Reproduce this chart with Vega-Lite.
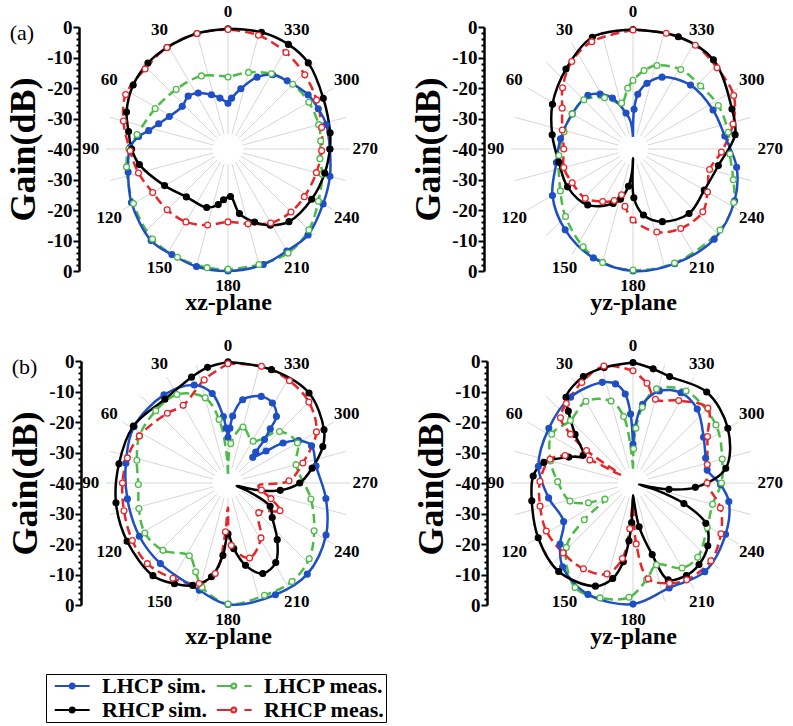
{
"$schema":"https://vega.github.io/schema/vega-lite/v6.json",
"background":"#ffffff",
"padding":{"left":5,"top":2,"right":0,"bottom":0},
"datasets":{
"rings":[{"r":5},{"r":10},{"r":15},{"r":20},{"r":25},{"r":30},{"r":35},{"r":40}],
"spokes":[{"angle":0},{"angle":15},{"angle":30},{"angle":45},{"angle":60},{"angle":75},{"angle":90},{"angle":105},{"angle":120},{"angle":135},{"angle":150},{"angle":165},{"angle":180},{"angle":195},{"angle":210},{"angle":225},{"angle":240},{"angle":255},{"angle":270},{"angle":285},{"angle":300},{"angle":315},{"angle":330},{"angle":345}],
"angleLabels":[{"angle":0},{"angle":30},{"angle":60},{"angle":90},{"angle":120},{"angle":150},{"angle":180},{"angle":210},{"angle":240},{"angle":270},{"angle":300},{"angle":330}],
"curves":[
{"panel":"a-xz","series":"LHCP sim.","angle":0,"gain":-25},{"panel":"a-xz","series":"LHCP sim.","angle":9,"gain":-23.1},{"panel":"a-xz","series":"LHCP sim.","angle":17,"gain":-21.4},{"panel":"a-xz","series":"LHCP sim.","angle":28,"gain":-19.2},{"panel":"a-xz","series":"LHCP sim.","angle":37,"gain":-18.3},{"panel":"a-xz","series":"LHCP sim.","angle":47,"gain":-19.5},{"panel":"a-xz","series":"LHCP sim.","angle":61,"gain":-18},{"panel":"a-xz","series":"LHCP sim.","angle":70,"gain":-15.8},{"panel":"a-xz","series":"LHCP sim.","angle":77,"gain":-13.3},{"panel":"a-xz","series":"LHCP sim.","angle":82,"gain":-10.4},{"panel":"a-xz","series":"LHCP sim.","angle":89,"gain":-7.9},{"panel":"a-xz","series":"LHCP sim.","angle":103,"gain":-6.4},{"panel":"a-xz","series":"LHCP sim.","angle":119,"gain":-3.8},{"panel":"a-xz","series":"LHCP sim.","angle":140,"gain":-0.8},{"panel":"a-xz","series":"LHCP sim.","angle":152,"gain":-0.8},{"panel":"a-xz","series":"LHCP sim.","angle":165,"gain":-0.1},{"panel":"a-xz","series":"LHCP sim.","angle":180,"gain":0},{"panel":"a-xz","series":"LHCP sim.","angle":197,"gain":-0.4},{"panel":"a-xz","series":"LHCP sim.","angle":210,"gain":-1.4},{"panel":"a-xz","series":"LHCP sim.","angle":223,"gain":-1.5},{"panel":"a-xz","series":"LHCP sim.","angle":240,"gain":-4},{"panel":"a-xz","series":"LHCP sim.","angle":255,"gain":-5.4},{"panel":"a-xz","series":"LHCP sim.","angle":270,"gain":-6.6},{"panel":"a-xz","series":"LHCP sim.","angle":284,"gain":-6.8},{"panel":"a-xz","series":"LHCP sim.","angle":294,"gain":-7.6},{"panel":"a-xz","series":"LHCP sim.","angle":304,"gain":-8.3},{"panel":"a-xz","series":"LHCP sim.","angle":319,"gain":-10.4},{"panel":"a-xz","series":"LHCP sim.","angle":329,"gain":-11.6},{"panel":"a-xz","series":"LHCP sim.","angle":338,"gain":-14.6},{"panel":"a-xz","series":"LHCP sim.","angle":348,"gain":-19.8},{"panel":"a-xz","series":"LHCP sim.","angle":356,"gain":-23.3},{"panel":"a-xz","series":"LHCP sim.","angle":360,"gain":-25},
{"panel":"a-xz","series":"LHCP meas.","angle":0,"gain":-16.4},{"panel":"a-xz","series":"LHCP meas.","angle":20,"gain":-14.5},{"panel":"a-xz","series":"LHCP meas.","angle":41,"gain":-14.1},{"panel":"a-xz","series":"LHCP meas.","angle":61,"gain":-12.7},{"panel":"a-xz","series":"LHCP meas.","angle":81,"gain":-9.8},{"panel":"a-xz","series":"LHCP meas.","angle":90,"gain":-7.5},{"panel":"a-xz","series":"LHCP meas.","angle":100,"gain":-6.2},{"panel":"a-xz","series":"LHCP meas.","angle":120,"gain":-4.2},{"panel":"a-xz","series":"LHCP meas.","angle":140,"gain":-1.5},{"panel":"a-xz","series":"LHCP meas.","angle":155,"gain":-0.8},{"panel":"a-xz","series":"LHCP meas.","angle":170,"gain":-0.5},{"panel":"a-xz","series":"LHCP meas.","angle":180,"gain":-0.6},{"panel":"a-xz","series":"LHCP meas.","angle":195,"gain":-0.8},{"panel":"a-xz","series":"LHCP meas.","angle":210,"gain":-0.6},{"panel":"a-xz","series":"LHCP meas.","angle":225,"gain":-2.5},{"panel":"a-xz","series":"LHCP meas.","angle":240,"gain":-5.8},{"panel":"a-xz","series":"LHCP meas.","angle":255,"gain":-8},{"panel":"a-xz","series":"LHCP meas.","angle":264,"gain":-9.7},{"panel":"a-xz","series":"LHCP meas.","angle":275,"gain":-9.5},{"panel":"a-xz","series":"LHCP meas.","angle":285,"gain":-9.2},{"panel":"a-xz","series":"LHCP meas.","angle":300,"gain":-9.4},{"panel":"a-xz","series":"LHCP meas.","angle":315,"gain":-10},{"panel":"a-xz","series":"LHCP meas.","angle":330,"gain":-11.5},{"panel":"a-xz","series":"LHCP meas.","angle":345,"gain":-14},{"panel":"a-xz","series":"LHCP meas.","angle":360,"gain":-16.4},
{"panel":"a-xz","series":"RHCP sim.","angle":0,"gain":-0.6},{"panel":"a-xz","series":"RHCP sim.","angle":15,"gain":-0.8},{"panel":"a-xz","series":"RHCP sim.","angle":31,"gain":-1.2},{"panel":"a-xz","series":"RHCP sim.","angle":43,"gain":-1.5},{"panel":"a-xz","series":"RHCP sim.","angle":56,"gain":-2.5},{"panel":"a-xz","series":"RHCP sim.","angle":70,"gain":-4.6},{"panel":"a-xz","series":"RHCP sim.","angle":80,"gain":-6.9},{"panel":"a-xz","series":"RHCP sim.","angle":90,"gain":-8.4},{"panel":"a-xz","series":"RHCP sim.","angle":100,"gain":-10.5},{"panel":"a-xz","series":"RHCP sim.","angle":120,"gain":-16},{"panel":"a-xz","series":"RHCP sim.","angle":139,"gain":-19.2},{"panel":"a-xz","series":"RHCP sim.","angle":160,"gain":-19.6},{"panel":"a-xz","series":"RHCP sim.","angle":170,"gain":-21.5},{"panel":"a-xz","series":"RHCP sim.","angle":175,"gain":-23.3},{"panel":"a-xz","series":"RHCP sim.","angle":183,"gain":-24.4},{"panel":"a-xz","series":"RHCP sim.","angle":190,"gain":-18.5},{"panel":"a-xz","series":"RHCP sim.","angle":200,"gain":-14.5},{"panel":"a-xz","series":"RHCP sim.","angle":209,"gain":-11.4},{"panel":"a-xz","series":"RHCP sim.","angle":220,"gain":-8.9},{"panel":"a-xz","series":"RHCP sim.","angle":239,"gain":-8},{"panel":"a-xz","series":"RHCP sim.","angle":256,"gain":-7.3},{"panel":"a-xz","series":"RHCP sim.","angle":270,"gain":-6.6},{"panel":"a-xz","series":"RHCP sim.","angle":279,"gain":-6.1},{"panel":"a-xz","series":"RHCP sim.","angle":298,"gain":-4.6},{"panel":"a-xz","series":"RHCP sim.","angle":317,"gain":-1.4},{"panel":"a-xz","series":"RHCP sim.","angle":330,"gain":-0.4},{"panel":"a-xz","series":"RHCP sim.","angle":344,"gain":-0.2},{"panel":"a-xz","series":"RHCP sim.","angle":360,"gain":-0.6},
{"panel":"a-xz","series":"RHCP meas.","angle":0,"gain":-0.8},{"panel":"a-xz","series":"RHCP meas.","angle":15,"gain":-0.8},{"panel":"a-xz","series":"RHCP meas.","angle":31,"gain":-1.2},{"panel":"a-xz","series":"RHCP meas.","angle":46,"gain":-2.2},{"panel":"a-xz","series":"RHCP meas.","angle":62,"gain":-2},{"panel":"a-xz","series":"RHCP meas.","angle":75,"gain":-4.5},{"panel":"a-xz","series":"RHCP meas.","angle":91,"gain":-7.9},{"panel":"a-xz","series":"RHCP meas.","angle":105,"gain":-9.6},{"panel":"a-xz","series":"RHCP meas.","angle":120,"gain":-11.5},{"panel":"a-xz","series":"RHCP meas.","angle":135,"gain":-11.8},{"panel":"a-xz","series":"RHCP meas.","angle":150,"gain":-12.4},{"panel":"a-xz","series":"RHCP meas.","angle":165,"gain":-14.2},{"panel":"a-xz","series":"RHCP meas.","angle":180,"gain":-16.1},{"panel":"a-xz","series":"RHCP meas.","angle":195,"gain":-14.6},{"panel":"a-xz","series":"RHCP meas.","angle":210,"gain":-12},{"panel":"a-xz","series":"RHCP meas.","angle":225,"gain":-10.8},{"panel":"a-xz","series":"RHCP meas.","angle":238,"gain":-10.5},{"panel":"a-xz","series":"RHCP meas.","angle":255,"gain":-10},{"panel":"a-xz","series":"RHCP meas.","angle":269,"gain":-9.3},{"panel":"a-xz","series":"RHCP meas.","angle":283,"gain":-8.5},{"panel":"a-xz","series":"RHCP meas.","angle":299,"gain":-6.8},{"panel":"a-xz","series":"RHCP meas.","angle":314,"gain":-5},{"panel":"a-xz","series":"RHCP meas.","angle":329,"gain":-3.1},{"panel":"a-xz","series":"RHCP meas.","angle":345,"gain":-1.4},{"panel":"a-xz","series":"RHCP meas.","angle":360,"gain":-0.8},
{"panel":"a-yz","series":"LHCP sim.","angle":0,"gain":-36},{"panel":"a-yz","series":"LHCP sim.","angle":5,"gain":-31},{"panel":"a-yz","series":"LHCP sim.","angle":11,"gain":-28},{"panel":"a-yz","series":"LHCP sim.","angle":22,"gain":-22},{"panel":"a-yz","series":"LHCP sim.","angle":31,"gain":-19},{"panel":"a-yz","series":"LHCP sim.","angle":40,"gain":-17},{"panel":"a-yz","series":"LHCP sim.","angle":60,"gain":-17},{"panel":"a-yz","series":"LHCP sim.","angle":82,"gain":-16},{"panel":"a-yz","series":"LHCP sim.","angle":100,"gain":-14.5},{"panel":"a-yz","series":"LHCP sim.","angle":120,"gain":-9.5},{"panel":"a-yz","series":"LHCP sim.","angle":140,"gain":-5.4},{"panel":"a-yz","series":"LHCP sim.","angle":160,"gain":-2},{"panel":"a-yz","series":"LHCP sim.","angle":180,"gain":0},{"panel":"a-yz","series":"LHCP sim.","angle":200,"gain":0},{"panel":"a-yz","series":"LHCP sim.","angle":222,"gain":-0.2},{"panel":"a-yz","series":"LHCP sim.","angle":243,"gain":-2.6},{"panel":"a-yz","series":"LHCP sim.","angle":260,"gain":-5.5},{"panel":"a-yz","series":"LHCP sim.","angle":278,"gain":-9.6},{"panel":"a-yz","series":"LHCP sim.","angle":296,"gain":-10.8},{"panel":"a-yz","series":"LHCP sim.","angle":318,"gain":-11.8},{"panel":"a-yz","series":"LHCP sim.","angle":338,"gain":-14.6},{"panel":"a-yz","series":"LHCP sim.","angle":348,"gain":-18},{"panel":"a-yz","series":"LHCP sim.","angle":355,"gain":-22},{"panel":"a-yz","series":"LHCP sim.","angle":358.5,"gain":-27},{"panel":"a-yz","series":"LHCP sim.","angle":360,"gain":-36},
{"panel":"a-yz","series":"LHCP meas.","angle":0,"gain":-17.5},{"panel":"a-yz","series":"LHCP meas.","angle":5,"gain":-20},{"panel":"a-yz","series":"LHCP meas.","angle":14,"gain":-24.5},{"panel":"a-yz","series":"LHCP meas.","angle":29,"gain":-20.8},{"panel":"a-yz","series":"LHCP meas.","angle":45,"gain":-17.2},{"panel":"a-yz","series":"LHCP meas.","angle":60,"gain":-17},{"panel":"a-yz","series":"LHCP meas.","angle":76,"gain":-16.7},{"panel":"a-yz","series":"LHCP meas.","angle":95,"gain":-15.6},{"panel":"a-yz","series":"LHCP meas.","angle":120,"gain":-12.5},{"panel":"a-yz","series":"LHCP meas.","angle":135,"gain":-8.7},{"panel":"a-yz","series":"LHCP meas.","angle":153,"gain":-4},{"panel":"a-yz","series":"LHCP meas.","angle":165,"gain":-1.5},{"panel":"a-yz","series":"LHCP meas.","angle":180,"gain":-0.3},{"panel":"a-yz","series":"LHCP meas.","angle":200,"gain":-0.2},{"panel":"a-yz","series":"LHCP meas.","angle":227,"gain":-1},{"panel":"a-yz","series":"LHCP meas.","angle":242,"gain":-2.6},{"panel":"a-yz","series":"LHCP meas.","angle":253,"gain":-5.6},{"panel":"a-yz","series":"LHCP meas.","angle":267,"gain":-8.2},{"panel":"a-yz","series":"LHCP meas.","angle":280,"gain":-8.3},{"panel":"a-yz","series":"LHCP meas.","angle":297,"gain":-8.6},{"panel":"a-yz","series":"LHCP meas.","angle":313,"gain":-9.7},{"panel":"a-yz","series":"LHCP meas.","angle":329,"gain":-9.6},{"panel":"a-yz","series":"LHCP meas.","angle":344,"gain":-11.5},{"panel":"a-yz","series":"LHCP meas.","angle":352,"gain":-14},{"panel":"a-yz","series":"LHCP meas.","angle":360,"gain":-17.5},
{"panel":"a-yz","series":"RHCP sim.","angle":0,"gain":-0.8},{"panel":"a-yz","series":"RHCP sim.","angle":20,"gain":-1},{"panel":"a-yz","series":"RHCP sim.","angle":40,"gain":-5.8},{"panel":"a-yz","series":"RHCP sim.","angle":61,"gain":-9.8},{"panel":"a-yz","series":"RHCP sim.","angle":80,"gain":-13.1},{"panel":"a-yz","series":"RHCP sim.","angle":100,"gain":-15.3},{"panel":"a-yz","series":"RHCP sim.","angle":120,"gain":-15.2},{"panel":"a-yz","series":"RHCP sim.","angle":141,"gain":-16.4},{"panel":"a-yz","series":"RHCP sim.","angle":160,"gain":-21},{"panel":"a-yz","series":"RHCP sim.","angle":166,"gain":-23},{"panel":"a-yz","series":"RHCP sim.","angle":173,"gain":-27.7},{"panel":"a-yz","series":"RHCP sim.","angle":178,"gain":-33},{"panel":"a-yz","series":"RHCP sim.","angle":180,"gain":-37},{"panel":"a-yz","series":"RHCP sim.","angle":181,"gain":-24},{"panel":"a-yz","series":"RHCP sim.","angle":189,"gain":-18.1},{"panel":"a-yz","series":"RHCP sim.","angle":202,"gain":-14.3},{"panel":"a-yz","series":"RHCP sim.","angle":221,"gain":-12},{"panel":"a-yz","series":"RHCP sim.","angle":240,"gain":-13},{"panel":"a-yz","series":"RHCP sim.","angle":259,"gain":-11.5},{"panel":"a-yz","series":"RHCP sim.","angle":278,"gain":-6.2},{"panel":"a-yz","series":"RHCP sim.","angle":292,"gain":-5},{"panel":"a-yz","series":"RHCP sim.","angle":318,"gain":-0.6},{"panel":"a-yz","series":"RHCP sim.","angle":338,"gain":-0.3},{"panel":"a-yz","series":"RHCP sim.","angle":360,"gain":-0.8},
{"panel":"a-yz","series":"RHCP meas.","angle":0,"gain":-1},{"panel":"a-yz","series":"RHCP meas.","angle":21,"gain":-2.3},{"panel":"a-yz","series":"RHCP meas.","angle":35,"gain":-5},{"panel":"a-yz","series":"RHCP meas.","angle":49,"gain":-9.4},{"panel":"a-yz","series":"RHCP meas.","angle":60,"gain":-13.2},{"panel":"a-yz","series":"RHCP meas.","angle":75,"gain":-16},{"panel":"a-yz","series":"RHCP meas.","angle":90,"gain":-17.3},{"panel":"a-yz","series":"RHCP meas.","angle":105,"gain":-16.5},{"panel":"a-yz","series":"RHCP meas.","angle":119,"gain":-17.2},{"panel":"a-yz","series":"RHCP meas.","angle":136,"gain":-17.5},{"panel":"a-yz","series":"RHCP meas.","angle":150,"gain":-20.1},{"panel":"a-yz","series":"RHCP meas.","angle":160,"gain":-22},{"panel":"a-yz","series":"RHCP meas.","angle":166,"gain":-24.5},{"panel":"a-yz","series":"RHCP meas.","angle":172,"gain":-21},{"panel":"a-yz","series":"RHCP meas.","angle":180,"gain":-16.7},{"panel":"a-yz","series":"RHCP meas.","angle":196,"gain":-11.7},{"panel":"a-yz","series":"RHCP meas.","angle":211,"gain":-9.6},{"panel":"a-yz","series":"RHCP meas.","angle":228,"gain":-9.2},{"panel":"a-yz","series":"RHCP meas.","angle":240,"gain":-11.8},{"panel":"a-yz","series":"RHCP meas.","angle":255,"gain":-14},{"panel":"a-yz","series":"RHCP meas.","angle":268,"gain":-11},{"panel":"a-yz","series":"RHCP meas.","angle":284,"gain":-6.2},{"panel":"a-yz","series":"RHCP meas.","angle":298,"gain":-2.6},{"panel":"a-yz","series":"RHCP meas.","angle":314,"gain":-1.7},{"panel":"a-yz","series":"RHCP meas.","angle":329,"gain":-0.3},{"panel":"a-yz","series":"RHCP meas.","angle":344,"gain":-0.5},{"panel":"a-yz","series":"RHCP meas.","angle":360,"gain":-1},
{"panel":"b-xz","series":"LHCP sim.","angle":0,"gain":-25},{"panel":"b-xz","series":"LHCP sim.","angle":2,"gain":-22},{"panel":"b-xz","series":"LHCP sim.","angle":4,"gain":-18.2},{"panel":"b-xz","series":"LHCP sim.","angle":10,"gain":-10.2},{"panel":"b-xz","series":"LHCP sim.","angle":19,"gain":-6},{"panel":"b-xz","series":"LHCP sim.","angle":36,"gain":-4.3},{"panel":"b-xz","series":"LHCP sim.","angle":59,"gain":-4.1},{"panel":"b-xz","series":"LHCP sim.","angle":79,"gain":-5.9},{"panel":"b-xz","series":"LHCP sim.","angle":99,"gain":-6.6},{"panel":"b-xz","series":"LHCP sim.","angle":121,"gain":-6.1},{"panel":"b-xz","series":"LHCP sim.","angle":140,"gain":-5.5},{"panel":"b-xz","series":"LHCP sim.","angle":165,"gain":-3.6},{"panel":"b-xz","series":"LHCP sim.","angle":180,"gain":-0.2},{"panel":"b-xz","series":"LHCP sim.","angle":203,"gain":-0.2},{"panel":"b-xz","series":"LHCP sim.","angle":221,"gain":-0.4},{"panel":"b-xz","series":"LHCP sim.","angle":242,"gain":-3.6},{"panel":"b-xz","series":"LHCP sim.","angle":261,"gain":-7.5},{"panel":"b-xz","series":"LHCP sim.","angle":281,"gain":-10.6},{"panel":"b-xz","series":"LHCP sim.","angle":294,"gain":-10},{"panel":"b-xz","series":"LHCP sim.","angle":301,"gain":-13},{"panel":"b-xz","series":"LHCP sim.","angle":306,"gain":-17.7},{"panel":"b-xz","series":"LHCP sim.","angle":310,"gain":-23.7},{"panel":"b-xz","series":"LHCP sim.","angle":316,"gain":-28.3},{"panel":"b-xz","series":"LHCP sim.","angle":318,"gain":-26.4},{"panel":"b-xz","series":"LHCP sim.","angle":320,"gain":-21.4},{"panel":"b-xz","series":"LHCP sim.","angle":322,"gain":-17.5},{"panel":"b-xz","series":"LHCP sim.","angle":324,"gain":-13},{"panel":"b-xz","series":"LHCP sim.","angle":331,"gain":-10},{"panel":"b-xz","series":"LHCP sim.","angle":339,"gain":-9.6},{"panel":"b-xz","series":"LHCP sim.","angle":350,"gain":-12.3},{"panel":"b-xz","series":"LHCP sim.","angle":356,"gain":-18},{"panel":"b-xz","series":"LHCP sim.","angle":358,"gain":-22},{"panel":"b-xz","series":"LHCP sim.","angle":360,"gain":-25},
{"panel":"b-xz","series":"LHCP meas.","angle":0,"gain":-37},{"panel":"b-xz","series":"LHCP meas.","angle":3,"gain":-30},{"panel":"b-xz","series":"LHCP meas.","angle":8,"gain":-19},{"panel":"b-xz","series":"LHCP meas.","angle":15,"gain":-11.1},{"panel":"b-xz","series":"LHCP meas.","angle":30,"gain":-6.5},{"panel":"b-xz","series":"LHCP meas.","angle":45,"gain":-6.5},{"panel":"b-xz","series":"LHCP meas.","angle":62,"gain":-7.1},{"panel":"b-xz","series":"LHCP meas.","angle":76,"gain":-9.2},{"panel":"b-xz","series":"LHCP meas.","angle":91,"gain":-10.6},{"panel":"b-xz","series":"LHCP meas.","angle":106,"gain":-9.6},{"panel":"b-xz","series":"LHCP meas.","angle":121,"gain":-8.2},{"panel":"b-xz","series":"LHCP meas.","angle":136,"gain":-9.3},{"panel":"b-xz","series":"LHCP meas.","angle":152,"gain":-13},{"panel":"b-xz","series":"LHCP meas.","angle":160,"gain":-9},{"panel":"b-xz","series":"LHCP meas.","angle":166,"gain":-4.8},{"panel":"b-xz","series":"LHCP meas.","angle":180,"gain":-0.3},{"panel":"b-xz","series":"LHCP meas.","angle":198,"gain":-1.3},{"panel":"b-xz","series":"LHCP meas.","angle":213,"gain":-1.5},{"panel":"b-xz","series":"LHCP meas.","angle":227,"gain":-3.6},{"panel":"b-xz","series":"LHCP meas.","angle":241,"gain":-7.7},{"panel":"b-xz","series":"LHCP meas.","angle":259,"gain":-12.3},{"panel":"b-xz","series":"LHCP meas.","angle":285,"gain":-16.9},{"panel":"b-xz","series":"LHCP meas.","angle":300,"gain":-13.7},{"panel":"b-xz","series":"LHCP meas.","angle":315,"gain":-16.1},{"panel":"b-xz","series":"LHCP meas.","angle":329,"gain":-24},{"panel":"b-xz","series":"LHCP meas.","angle":345,"gain":-21},{"panel":"b-xz","series":"LHCP meas.","angle":356,"gain":-27},{"panel":"b-xz","series":"LHCP meas.","angle":359,"gain":-33},{"panel":"b-xz","series":"LHCP meas.","angle":360,"gain":-37},
{"panel":"b-xz","series":"RHCP sim.","angle":0,"gain":-0.3},{"panel":"b-xz","series":"RHCP sim.","angle":10,"gain":-1.5},{"panel":"b-xz","series":"RHCP sim.","angle":19,"gain":-3.3},{"panel":"b-xz","series":"RHCP sim.","angle":37,"gain":-5.6},{"panel":"b-xz","series":"RHCP sim.","angle":59,"gain":-3.8},{"panel":"b-xz","series":"RHCP sim.","angle":80,"gain":-3.7},{"panel":"b-xz","series":"RHCP sim.","angle":100,"gain":-2.7},{"panel":"b-xz","series":"RHCP sim.","angle":120,"gain":-1.8},{"panel":"b-xz","series":"RHCP sim.","angle":141,"gain":-0.9},{"panel":"b-xz","series":"RHCP sim.","angle":152,"gain":-2.6},{"panel":"b-xz","series":"RHCP sim.","angle":161,"gain":-4.5},{"panel":"b-xz","series":"RHCP sim.","angle":170,"gain":-8.8},{"panel":"b-xz","series":"RHCP sim.","angle":176,"gain":-16.2},{"panel":"b-xz","series":"RHCP sim.","angle":180,"gain":-23.3},{"panel":"b-xz","series":"RHCP sim.","angle":185,"gain":-18.4},{"panel":"b-xz","series":"RHCP sim.","angle":192,"gain":-12.4},{"panel":"b-xz","series":"RHCP sim.","angle":201,"gain":-8.2},{"panel":"b-xz","series":"RHCP sim.","angle":211,"gain":-9.6},{"panel":"b-xz","series":"RHCP sim.","angle":221,"gain":-15.4},{"panel":"b-xz","series":"RHCP sim.","angle":232,"gain":-21.6},{"panel":"b-xz","series":"RHCP sim.","angle":241,"gain":-24.2},{"panel":"b-xz","series":"RHCP sim.","angle":248,"gain":-33},{"panel":"b-xz","series":"RHCP sim.","angle":252,"gain":-37},{"panel":"b-xz","series":"RHCP sim.","angle":256,"gain":-31},{"panel":"b-xz","series":"RHCP sim.","angle":262,"gain":-22.7},{"panel":"b-xz","series":"RHCP sim.","angle":270,"gain":-16.5},{"panel":"b-xz","series":"RHCP sim.","angle":280,"gain":-12},{"panel":"b-xz","series":"RHCP sim.","angle":291,"gain":-6.7},{"panel":"b-xz","series":"RHCP sim.","angle":299,"gain":-4},{"panel":"b-xz","series":"RHCP sim.","angle":318,"gain":-0.3},{"panel":"b-xz","series":"RHCP sim.","angle":339,"gain":-0.2},{"panel":"b-xz","series":"RHCP sim.","angle":360,"gain":-0.3},
{"panel":"b-xz","series":"RHCP meas.","angle":0,"gain":-0.9},{"panel":"b-xz","series":"RHCP meas.","angle":13,"gain":-5.3},{"panel":"b-xz","series":"RHCP meas.","angle":30,"gain":-10.6},{"panel":"b-xz","series":"RHCP meas.","angle":41,"gain":-9.7},{"panel":"b-xz","series":"RHCP meas.","angle":62,"gain":-7.1},{"panel":"b-xz","series":"RHCP meas.","angle":76,"gain":-6},{"panel":"b-xz","series":"RHCP meas.","angle":90,"gain":-5.4},{"panel":"b-xz","series":"RHCP meas.","angle":105,"gain":-4.7},{"panel":"b-xz","series":"RHCP meas.","angle":121,"gain":-3.4},{"panel":"b-xz","series":"RHCP meas.","angle":135,"gain":-2.6},{"panel":"b-xz","series":"RHCP meas.","angle":150,"gain":-3.9},{"panel":"b-xz","series":"RHCP meas.","angle":164,"gain":-5.7},{"panel":"b-xz","series":"RHCP meas.","angle":172,"gain":-10},{"panel":"b-xz","series":"RHCP meas.","angle":177,"gain":-24},{"panel":"b-xz","series":"RHCP meas.","angle":180,"gain":-32},{"panel":"b-xz","series":"RHCP meas.","angle":183,"gain":-19.5},{"panel":"b-xz","series":"RHCP meas.","angle":196,"gain":-14.4},{"panel":"b-xz","series":"RHCP meas.","angle":211,"gain":-19},{"panel":"b-xz","series":"RHCP meas.","angle":226,"gain":-26},{"panel":"b-xz","series":"RHCP meas.","angle":242,"gain":-20.7},{"panel":"b-xz","series":"RHCP meas.","angle":250,"gain":-25},{"panel":"b-xz","series":"RHCP meas.","angle":258,"gain":-28.8},{"panel":"b-xz","series":"RHCP meas.","angle":265,"gain":-30},{"panel":"b-xz","series":"RHCP meas.","angle":272,"gain":-20},{"panel":"b-xz","series":"RHCP meas.","angle":285,"gain":-14.6},{"panel":"b-xz","series":"RHCP meas.","angle":300,"gain":-6.5},{"panel":"b-xz","series":"RHCP meas.","angle":315,"gain":-2.5},{"panel":"b-xz","series":"RHCP meas.","angle":329,"gain":-0.9},{"panel":"b-xz","series":"RHCP meas.","angle":344,"gain":-0.2},{"panel":"b-xz","series":"RHCP meas.","angle":360,"gain":-0.9},
{"panel":"b-yz","series":"LHCP sim.","angle":0,"gain":-27.3},{"panel":"b-yz","series":"LHCP sim.","angle":2,"gain":-17.4},{"panel":"b-yz","series":"LHCP sim.","angle":5,"gain":-10.7},{"panel":"b-yz","series":"LHCP sim.","angle":10,"gain":-7},{"panel":"b-yz","series":"LHCP sim.","angle":17,"gain":-5.5},{"panel":"b-yz","series":"LHCP sim.","angle":36,"gain":-5.2},{"panel":"b-yz","series":"LHCP sim.","angle":57,"gain":-7.1},{"panel":"b-yz","series":"LHCP sim.","angle":80,"gain":-8.5},{"panel":"b-yz","series":"LHCP sim.","angle":100,"gain":-11.9},{"panel":"b-yz","series":"LHCP sim.","angle":119,"gain":-14},{"panel":"b-yz","series":"LHCP sim.","angle":130,"gain":-8.8},{"panel":"b-yz","series":"LHCP sim.","angle":140,"gain":-4.1},{"panel":"b-yz","series":"LHCP sim.","angle":158,"gain":-0.6},{"panel":"b-yz","series":"LHCP sim.","angle":180,"gain":-0.3},{"panel":"b-yz","series":"LHCP sim.","angle":199,"gain":-3.6},{"panel":"b-yz","series":"LHCP sim.","angle":219,"gain":-2.6},{"panel":"b-yz","series":"LHCP sim.","angle":241,"gain":-5.3},{"panel":"b-yz","series":"LHCP sim.","angle":259,"gain":-8},{"panel":"b-yz","series":"LHCP sim.","angle":269,"gain":-11.3},{"panel":"b-yz","series":"LHCP sim.","angle":280,"gain":-15.3},{"panel":"b-yz","series":"LHCP sim.","angle":289,"gain":-14.8},{"panel":"b-yz","series":"LHCP sim.","angle":303,"gain":-12.4},{"panel":"b-yz","series":"LHCP sim.","angle":319,"gain":-7.9},{"panel":"b-yz","series":"LHCP sim.","angle":332,"gain":-6.5},{"panel":"b-yz","series":"LHCP sim.","angle":344,"gain":-8.6},{"panel":"b-yz","series":"LHCP sim.","angle":353,"gain":-14},{"panel":"b-yz","series":"LHCP sim.","angle":358,"gain":-21.8},{"panel":"b-yz","series":"LHCP sim.","angle":360,"gain":-27.3},
{"panel":"b-yz","series":"LHCP meas.","angle":0,"gain":-35.3},{"panel":"b-yz","series":"LHCP meas.","angle":3,"gain":-30},{"panel":"b-yz","series":"LHCP meas.","angle":8,"gain":-18},{"panel":"b-yz","series":"LHCP meas.","angle":15,"gain":-12.2},{"panel":"b-yz","series":"LHCP meas.","angle":30,"gain":-9.1},{"panel":"b-yz","series":"LHCP meas.","angle":45,"gain":-11},{"panel":"b-yz","series":"LHCP meas.","angle":59,"gain":-8.9},{"panel":"b-yz","series":"LHCP meas.","angle":75,"gain":-12},{"panel":"b-yz","series":"LHCP meas.","angle":89,"gain":-15.3},{"panel":"b-yz","series":"LHCP meas.","angle":106,"gain":-18.5},{"panel":"b-yz","series":"LHCP meas.","angle":114,"gain":-24},{"panel":"b-yz","series":"LHCP meas.","angle":120,"gain":-29.4},{"panel":"b-yz","series":"LHCP meas.","angle":127,"gain":-20},{"panel":"b-yz","series":"LHCP meas.","angle":134,"gain":-9.6},{"panel":"b-yz","series":"LHCP meas.","angle":151,"gain":-0.8},{"panel":"b-yz","series":"LHCP meas.","angle":164,"gain":-0.8},{"panel":"b-yz","series":"LHCP meas.","angle":178,"gain":-2.5},{"panel":"b-yz","series":"LHCP meas.","angle":188,"gain":-8},{"panel":"b-yz","series":"LHCP meas.","angle":196,"gain":-12.1},{"panel":"b-yz","series":"LHCP meas.","angle":210,"gain":-7.8},{"panel":"b-yz","series":"LHCP meas.","angle":221,"gain":-7.7},{"panel":"b-yz","series":"LHCP meas.","angle":239,"gain":-11.6},{"panel":"b-yz","series":"LHCP meas.","angle":255,"gain":-13},{"panel":"b-yz","series":"LHCP meas.","angle":270,"gain":-11},{"panel":"b-yz","series":"LHCP meas.","angle":285,"gain":-9.7},{"panel":"b-yz","series":"LHCP meas.","angle":305,"gain":-6.8},{"panel":"b-yz","series":"LHCP meas.","angle":330,"gain":-5.2},{"panel":"b-yz","series":"LHCP meas.","angle":346,"gain":-8.2},{"panel":"b-yz","series":"LHCP meas.","angle":353,"gain":-15},{"panel":"b-yz","series":"LHCP meas.","angle":357,"gain":-22},{"panel":"b-yz","series":"LHCP meas.","angle":359,"gain":-28.8},{"panel":"b-yz","series":"LHCP meas.","angle":360,"gain":-35.3},
{"panel":"b-yz","series":"RHCP sim.","angle":0,"gain":-0.5},{"panel":"b-yz","series":"RHCP sim.","angle":14,"gain":-1},{"panel":"b-yz","series":"RHCP sim.","angle":25,"gain":-1.5},{"panel":"b-yz","series":"RHCP sim.","angle":38,"gain":-4.3},{"panel":"b-yz","series":"RHCP sim.","angle":42,"gain":-8.3},{"panel":"b-yz","series":"RHCP sim.","angle":50,"gain":-15.2},{"panel":"b-yz","series":"RHCP sim.","angle":61,"gain":-21.3},{"panel":"b-yz","series":"RHCP sim.","angle":68,"gain":-17.3},{"panel":"b-yz","series":"RHCP sim.","angle":77,"gain":-10},{"panel":"b-yz","series":"RHCP sim.","angle":86,"gain":-7.2},{"panel":"b-yz","series":"RHCP sim.","angle":100,"gain":-6.3},{"panel":"b-yz","series":"RHCP sim.","angle":120,"gain":-4.1},{"panel":"b-yz","series":"RHCP sim.","angle":140,"gain":-2.1},{"panel":"b-yz","series":"RHCP sim.","angle":160,"gain":-4},{"panel":"b-yz","series":"RHCP sim.","angle":168,"gain":-8},{"panel":"b-yz","series":"RHCP sim.","angle":173,"gain":-14},{"panel":"b-yz","series":"RHCP sim.","angle":176,"gain":-21},{"panel":"b-yz","series":"RHCP sim.","angle":178,"gain":-27},{"panel":"b-yz","series":"RHCP sim.","angle":180,"gain":-36},{"panel":"b-yz","series":"RHCP sim.","angle":184,"gain":-33},{"panel":"b-yz","series":"RHCP sim.","angle":188,"gain":-25.5},{"panel":"b-yz","series":"RHCP sim.","angle":195,"gain":-15.7},{"panel":"b-yz","series":"RHCP sim.","angle":200,"gain":-6.2},{"panel":"b-yz","series":"RHCP sim.","angle":210,"gain":-5},{"panel":"b-yz","series":"RHCP sim.","angle":219,"gain":-5.6},{"panel":"b-yz","series":"RHCP sim.","angle":230,"gain":-8},{"panel":"b-yz","series":"RHCP sim.","angle":241,"gain":-12.7},{"panel":"b-yz","series":"RHCP sim.","angle":248,"gain":-22},{"panel":"b-yz","series":"RHCP sim.","angle":253,"gain":-32},{"panel":"b-yz","series":"RHCP sim.","angle":256,"gain":-38},{"panel":"b-yz","series":"RHCP sim.","angle":258,"gain":-33},{"panel":"b-yz","series":"RHCP sim.","angle":260,"gain":-28},{"panel":"b-yz","series":"RHCP sim.","angle":266,"gain":-19.5},{"panel":"b-yz","series":"RHCP sim.","angle":279,"gain":-9.2},{"panel":"b-yz","series":"RHCP sim.","angle":300,"gain":-4.1},{"panel":"b-yz","series":"RHCP sim.","angle":321,"gain":-1.6},{"panel":"b-yz","series":"RHCP sim.","angle":341,"gain":-3.1},{"panel":"b-yz","series":"RHCP sim.","angle":350,"gain":-2},{"panel":"b-yz","series":"RHCP sim.","angle":360,"gain":-0.5},
{"panel":"b-yz","series":"RHCP meas.","angle":0,"gain":-3.2},{"panel":"b-yz","series":"RHCP meas.","angle":14,"gain":-0.5},{"panel":"b-yz","series":"RHCP meas.","angle":27,"gain":-3},{"panel":"b-yz","series":"RHCP meas.","angle":40,"gain":-6},{"panel":"b-yz","series":"RHCP meas.","angle":48,"gain":-8},{"panel":"b-yz","series":"RHCP meas.","angle":52,"gain":-14},{"panel":"b-yz","series":"RHCP meas.","angle":55,"gain":-21.4},{"panel":"b-yz","series":"RHCP meas.","angle":57,"gain":-35},{"panel":"b-yz","series":"RHCP meas.","angle":62,"gain":-24},{"panel":"b-yz","series":"RHCP meas.","angle":68,"gain":-16},{"panel":"b-yz","series":"RHCP meas.","angle":74,"gain":-11.7},{"panel":"b-yz","series":"RHCP meas.","angle":89,"gain":-9.5},{"panel":"b-yz","series":"RHCP meas.","angle":104,"gain":-8.6},{"panel":"b-yz","series":"RHCP meas.","angle":119,"gain":-7.5},{"panel":"b-yz","series":"RHCP meas.","angle":135,"gain":-7.6},{"panel":"b-yz","series":"RHCP meas.","angle":150,"gain":-7.5},{"panel":"b-yz","series":"RHCP meas.","angle":164,"gain":-9},{"panel":"b-yz","series":"RHCP meas.","angle":172,"gain":-15},{"panel":"b-yz","series":"RHCP meas.","angle":176,"gain":-25},{"panel":"b-yz","series":"RHCP meas.","angle":179,"gain":-32.7},{"panel":"b-yz","series":"RHCP meas.","angle":183,"gain":-20},{"panel":"b-yz","series":"RHCP meas.","angle":189,"gain":-8.2},{"panel":"b-yz","series":"RHCP meas.","angle":200,"gain":-5},{"panel":"b-yz","series":"RHCP meas.","angle":209,"gain":-3.7},{"panel":"b-yz","series":"RHCP meas.","angle":225,"gain":-3.9},{"panel":"b-yz","series":"RHCP meas.","angle":240,"gain":-6.7},{"panel":"b-yz","series":"RHCP meas.","angle":254,"gain":-10.2},{"panel":"b-yz","series":"RHCP meas.","angle":270,"gain":-15.7},{"panel":"b-yz","series":"RHCP meas.","angle":284,"gain":-14.9},{"panel":"b-yz","series":"RHCP meas.","angle":302,"gain":-11.2},{"panel":"b-yz","series":"RHCP meas.","angle":315,"gain":-5.3},{"panel":"b-yz","series":"RHCP meas.","angle":331,"gain":-9.1},{"panel":"b-yz","series":"RHCP meas.","angle":345,"gain":-11.6},{"panel":"b-yz","series":"RHCP meas.","angle":352,"gain":-7},{"panel":"b-yz","series":"RHCP meas.","angle":360,"gain":-3.2}
]},
"columns":2,
"spacing":{"row":90,"column":161},
"bounds":"flush",
"concat":[
{"width":244,"height":244,
 "title":{"text":"(a)","anchor":"start","frame":"bounds","font":"Liberation Serif","fontSize":22,"fontWeight":"normal","color":"#000","baseline":"alphabetic","offset":0,"dy":59,"dx":4},
 "layer":[
 {"data":{"name":"rings"},"transform":[{"filter":"datum.r < 40"}],"mark":{"type":"arc","theta":0,"theta2":6.2832,"fillOpacity":0,"stroke":"#cccccc","strokeWidth":0.8},"encoding":{"radius":{"field":"r","type":"quantitative","scale":{"type":"linear","domain":[0,40],"zero":true,"nice":false}}}},
 {"data":{"name":"spokes"},"transform":[{"calculate":"-5*sin(datum.angle*PI/180)","as":"x"},{"calculate":"5*cos(datum.angle*PI/180)","as":"y"},{"calculate":"-40*sin(datum.angle*PI/180)","as":"x2"},{"calculate":"40*cos(datum.angle*PI/180)","as":"y2"}],
  "mark":{"type":"rule","stroke":"#cccccc","strokeWidth":0.8},
  "encoding":{
   "x":{"field":"x","type":"quantitative","scale":{"domain":[-40,40],"nice":false,"zero":false},"axis":{"title":"xz-plane"}},
   "y":{"field":"y","type":"quantitative","scale":{"domain":[-40,40],"nice":false,"zero":false},"axis":{"title":"Gain(dB)","offset":27,"tickCount":100,"labelOverlap":false,"values":[-40,-38,-36,-34,-32,-30,-28,-26,-24,-22,-20,-18,-16,-14,-12,-10,-8,-6,-4,-2,0,2,4,6,8,10,12,14,16,18,20,22,24,26,28,30,32,34,36,38,40],"labelExpr":"datum.value % 10 === 0 ? '' + (abs(datum.value) - 40) : ''","tickSize":{"condition":{"test":"datum.value % 10 === 0","value":6},"value":3}}},
   "x2":{"field":"x2"},"y2":{"field":"y2"}}},
 {"data":{"name":"rings"},"transform":[{"filter":"datum.r === 40"}],"mark":{"type":"arc","theta":0,"theta2":6.2832,"fillOpacity":0,"stroke":"#000000","strokeWidth":3},"encoding":{"radius":{"field":"r","type":"quantitative","scale":{"type":"linear","domain":[0,40],"zero":true,"nice":false}}}},
 {"data":{"name":"curves"},"transform":[{"filter":"datum.panel === 'a-xz' && indexof(datum.series,'meas') >= 0"},{"calculate":"max(datum.gain,-40)+40","as":"r"},{"calculate":"-datum.r*sin(datum.angle*PI/180)","as":"x"},{"calculate":"datum.r*cos(datum.angle*PI/180)","as":"y"}],
  "mark":{"type":"line","interpolate":"catmull-rom","strokeWidth":2.5,"strokeDash":[9,5]},
  "encoding":{"x":{"field":"x","type":"quantitative"},"y":{"field":"y","type":"quantitative"},"order":{"field":"angle","type":"quantitative"},
   "color":{"field":"series","type":"nominal","scale":{"domain":["LHCP sim.","LHCP meas.","RHCP sim.","RHCP meas."],"range":["#1f4fc4","#4cbb47","#000000","#e8262a"]},
    "legend":{"orient":"none","legendX":-60,"legendY":647,"columns":2,"direction":"horizontal","title":null,"symbolSize":64,"symbolStrokeWidth":2.2,"labelOffset":33,"labelFont":"Liberation Serif","labelFontSize":22,"labelFontWeight":"bold","labelColor":"#000","labelLimit":300,"columnPadding":-30,"rowPadding":2,"padding":1,"strokeColor":"#000","fillColor":"#fff",
     "encode":{"symbols":{"update":{
      "shape":{"signal":"indexof(datum.value,'meas') >= 0 ? 'M-0.81,0L2.84,0M4.06,0A0.61,0.61,0,1,1,2.84,0A0.61,0.61,0,1,1,4.06,0M6.09,0L7.91,0' : 'M-0.81,0L7.91,0M4.16,0A0.61,0.61,0,1,1,2.94,0A0.61,0.61,0,1,1,4.16,0'"},
      "fill":{"signal":"indexof(datum.value,'meas') >= 0 ? '#ffffff' : scale('color', datum.value)"},
      "stroke":{"signal":"scale('color', datum.value)"},
      "opacity":{"value":1},"fillOpacity":{"value":1},"strokeOpacity":{"value":1}}}}}}}},
 {"data":{"name":"curves"},"transform":[{"filter":"datum.panel === 'a-xz' && indexof(datum.series,'sim') >= 0"},{"calculate":"max(datum.gain,-40)+40","as":"r"},{"calculate":"-datum.r*sin(datum.angle*PI/180)","as":"x"},{"calculate":"datum.r*cos(datum.angle*PI/180)","as":"y"}],
  "mark":{"type":"line","interpolate":"catmull-rom","strokeWidth":2.5},
  "encoding":{"x":{"field":"x","type":"quantitative"},"y":{"field":"y","type":"quantitative"},"order":{"field":"angle","type":"quantitative"},
   "color":{"field":"series","type":"nominal","scale":{"domain":["LHCP sim.","LHCP meas.","RHCP sim.","RHCP meas."],"range":["#1f4fc4","#4cbb47","#000000","#e8262a"]}}}},
 {"data":{"name":"curves"},"transform":[{"filter":"datum.panel === 'a-xz' && datum.gain > -30 && datum.angle < 360"},{"calculate":"max(datum.gain,-40)+40","as":"r"},{"calculate":"-datum.r*sin(datum.angle*PI/180)","as":"x"},{"calculate":"datum.r*cos(datum.angle*PI/180)","as":"y"}],
  "mark":{"type":"point","shape":"circle","filled":true,"opacity":1,"strokeWidth":1.3,"size":34},
  "encoding":{"x":{"field":"x","type":"quantitative"},"y":{"field":"y","type":"quantitative"},
   "fill":{"field":"series","type":"nominal","scale":{"domain":["LHCP sim.","LHCP meas.","RHCP sim.","RHCP meas."],"range":["#1f4fc4","#ffffff","#000000","#ffffff"]},"legend":null},
   "stroke":{"field":"series","type":"nominal","scale":{"domain":["LHCP sim.","LHCP meas.","RHCP sim.","RHCP meas."],"range":["#1f4fc4","#4cbb47","#000000","#e8262a"]},"legend":null}}},
 {"data":{"name":"angleLabels"},"transform":[{"calculate":"-45*sin(datum.angle*PI/180)","as":"x"},{"calculate":"45*cos(datum.angle*PI/180)","as":"y"}],
  "mark":{"type":"text","font":"Liberation Serif","fontWeight":"bold","fontSize":17,"align":"center","baseline":"middle","color":"#000"},
  "encoding":{"x":{"field":"x","type":"quantitative"},"y":{"field":"y","type":"quantitative"},"text":{"field":"angle","type":"nominal"}}}
 ]},
{"width":244,"height":244,
 "layer":[
 {"data":{"name":"rings"},"transform":[{"filter":"datum.r < 40"}],"mark":{"type":"arc","theta":0,"theta2":6.2832,"fillOpacity":0,"stroke":"#cccccc","strokeWidth":0.8},"encoding":{"radius":{"field":"r","type":"quantitative","scale":{"type":"linear","domain":[0,40],"zero":true,"nice":false}}}},
 {"data":{"name":"spokes"},"transform":[{"calculate":"-5*sin(datum.angle*PI/180)","as":"x"},{"calculate":"5*cos(datum.angle*PI/180)","as":"y"},{"calculate":"-40*sin(datum.angle*PI/180)","as":"x2"},{"calculate":"40*cos(datum.angle*PI/180)","as":"y2"}],
  "mark":{"type":"rule","stroke":"#cccccc","strokeWidth":0.8},
  "encoding":{
   "x":{"field":"x","type":"quantitative","scale":{"domain":[-40,40],"nice":false,"zero":false},"axis":{"title":"yz-plane"}},
   "y":{"field":"y","type":"quantitative","scale":{"domain":[-40,40],"nice":false,"zero":false},"axis":{"title":"Gain(dB)","offset":27,"tickCount":100,"labelOverlap":false,"values":[-40,-38,-36,-34,-32,-30,-28,-26,-24,-22,-20,-18,-16,-14,-12,-10,-8,-6,-4,-2,0,2,4,6,8,10,12,14,16,18,20,22,24,26,28,30,32,34,36,38,40],"labelExpr":"datum.value % 10 === 0 ? '' + (abs(datum.value) - 40) : ''","tickSize":{"condition":{"test":"datum.value % 10 === 0","value":6},"value":3}}},
   "x2":{"field":"x2"},"y2":{"field":"y2"}}},
 {"data":{"name":"rings"},"transform":[{"filter":"datum.r === 40"}],"mark":{"type":"arc","theta":0,"theta2":6.2832,"fillOpacity":0,"stroke":"#000000","strokeWidth":3},"encoding":{"radius":{"field":"r","type":"quantitative","scale":{"type":"linear","domain":[0,40],"zero":true,"nice":false}}}},
 {"data":{"name":"curves"},"transform":[{"filter":"datum.panel === 'a-yz' && indexof(datum.series,'meas') >= 0"},{"calculate":"max(datum.gain,-40)+40","as":"r"},{"calculate":"-datum.r*sin(datum.angle*PI/180)","as":"x"},{"calculate":"datum.r*cos(datum.angle*PI/180)","as":"y"}],
  "mark":{"type":"line","interpolate":"catmull-rom","strokeWidth":2.5,"strokeDash":[9,5]},
  "encoding":{"x":{"field":"x","type":"quantitative"},"y":{"field":"y","type":"quantitative"},"order":{"field":"angle","type":"quantitative"},
   "color":{"field":"series","type":"nominal","scale":{"domain":["LHCP sim.","LHCP meas.","RHCP sim.","RHCP meas."],"range":["#1f4fc4","#4cbb47","#000000","#e8262a"]}}}},
 {"data":{"name":"curves"},"transform":[{"filter":"datum.panel === 'a-yz' && indexof(datum.series,'sim') >= 0"},{"calculate":"max(datum.gain,-40)+40","as":"r"},{"calculate":"-datum.r*sin(datum.angle*PI/180)","as":"x"},{"calculate":"datum.r*cos(datum.angle*PI/180)","as":"y"}],
  "mark":{"type":"line","interpolate":"catmull-rom","strokeWidth":2.5},
  "encoding":{"x":{"field":"x","type":"quantitative"},"y":{"field":"y","type":"quantitative"},"order":{"field":"angle","type":"quantitative"},
   "color":{"field":"series","type":"nominal","scale":{"domain":["LHCP sim.","LHCP meas.","RHCP sim.","RHCP meas."],"range":["#1f4fc4","#4cbb47","#000000","#e8262a"]}}}},
 {"data":{"name":"curves"},"transform":[{"filter":"datum.panel === 'a-yz' && datum.gain > -30 && datum.angle < 360"},{"calculate":"max(datum.gain,-40)+40","as":"r"},{"calculate":"-datum.r*sin(datum.angle*PI/180)","as":"x"},{"calculate":"datum.r*cos(datum.angle*PI/180)","as":"y"}],
  "mark":{"type":"point","shape":"circle","filled":true,"opacity":1,"strokeWidth":1.3,"size":34},
  "encoding":{"x":{"field":"x","type":"quantitative"},"y":{"field":"y","type":"quantitative"},
   "fill":{"field":"series","type":"nominal","scale":{"domain":["LHCP sim.","LHCP meas.","RHCP sim.","RHCP meas."],"range":["#1f4fc4","#ffffff","#000000","#ffffff"]},"legend":null},
   "stroke":{"field":"series","type":"nominal","scale":{"domain":["LHCP sim.","LHCP meas.","RHCP sim.","RHCP meas."],"range":["#1f4fc4","#4cbb47","#000000","#e8262a"]},"legend":null}}},
 {"data":{"name":"angleLabels"},"transform":[{"calculate":"-45*sin(datum.angle*PI/180)","as":"x"},{"calculate":"45*cos(datum.angle*PI/180)","as":"y"}],
  "mark":{"type":"text","font":"Liberation Serif","fontWeight":"bold","fontSize":17,"align":"center","baseline":"middle","color":"#000"},
  "encoding":{"x":{"field":"x","type":"quantitative"},"y":{"field":"y","type":"quantitative"},"text":{"field":"angle","type":"nominal"}}}
 ]},
{"width":244,"height":244,
 "title":{"text":"(b)","anchor":"start","frame":"bounds","font":"Liberation Serif","fontSize":22,"fontWeight":"normal","color":"#000","baseline":"alphabetic","offset":0,"dy":59,"dx":4},
 "layer":[
 {"data":{"name":"rings"},"transform":[{"filter":"datum.r < 40"}],"mark":{"type":"arc","theta":0,"theta2":6.2832,"fillOpacity":0,"stroke":"#cccccc","strokeWidth":0.8},"encoding":{"radius":{"field":"r","type":"quantitative","scale":{"type":"linear","domain":[0,40],"zero":true,"nice":false}}}},
 {"data":{"name":"spokes"},"transform":[{"calculate":"-5*sin(datum.angle*PI/180)","as":"x"},{"calculate":"5*cos(datum.angle*PI/180)","as":"y"},{"calculate":"-40*sin(datum.angle*PI/180)","as":"x2"},{"calculate":"40*cos(datum.angle*PI/180)","as":"y2"}],
  "mark":{"type":"rule","stroke":"#cccccc","strokeWidth":0.8},
  "encoding":{
   "x":{"field":"x","type":"quantitative","scale":{"domain":[-40,40],"nice":false,"zero":false},"axis":{"title":"xz-plane"}},
   "y":{"field":"y","type":"quantitative","scale":{"domain":[-40,40],"nice":false,"zero":false},"axis":{"title":"Gain(dB)","offset":25,"tickCount":100,"labelOverlap":false,"values":[-40,-38,-36,-34,-32,-30,-28,-26,-24,-22,-20,-18,-16,-14,-12,-10,-8,-6,-4,-2,0,2,4,6,8,10,12,14,16,18,20,22,24,26,28,30,32,34,36,38,40],"labelExpr":"datum.value % 10 === 0 ? '' + (abs(datum.value) - 40) : ''","tickSize":{"condition":{"test":"datum.value % 10 === 0","value":6},"value":3}}},
   "x2":{"field":"x2"},"y2":{"field":"y2"}}},
 {"data":{"name":"rings"},"transform":[{"filter":"datum.r === 40"}],"mark":{"type":"arc","theta":0,"theta2":6.2832,"fillOpacity":0,"stroke":"#000000","strokeWidth":3},"encoding":{"radius":{"field":"r","type":"quantitative","scale":{"type":"linear","domain":[0,40],"zero":true,"nice":false}}}},
 {"data":{"name":"curves"},"transform":[{"filter":"datum.panel === 'b-xz' && indexof(datum.series,'meas') >= 0"},{"calculate":"max(datum.gain,-40)+40","as":"r"},{"calculate":"-datum.r*sin(datum.angle*PI/180)","as":"x"},{"calculate":"datum.r*cos(datum.angle*PI/180)","as":"y"}],
  "mark":{"type":"line","interpolate":"catmull-rom","strokeWidth":2.5,"strokeDash":[9,5]},
  "encoding":{"x":{"field":"x","type":"quantitative"},"y":{"field":"y","type":"quantitative"},"order":{"field":"angle","type":"quantitative"},
   "color":{"field":"series","type":"nominal","scale":{"domain":["LHCP sim.","LHCP meas.","RHCP sim.","RHCP meas."],"range":["#1f4fc4","#4cbb47","#000000","#e8262a"]}}}},
 {"data":{"name":"curves"},"transform":[{"filter":"datum.panel === 'b-xz' && indexof(datum.series,'sim') >= 0"},{"calculate":"max(datum.gain,-40)+40","as":"r"},{"calculate":"-datum.r*sin(datum.angle*PI/180)","as":"x"},{"calculate":"datum.r*cos(datum.angle*PI/180)","as":"y"}],
  "mark":{"type":"line","interpolate":"catmull-rom","strokeWidth":2.5},
  "encoding":{"x":{"field":"x","type":"quantitative"},"y":{"field":"y","type":"quantitative"},"order":{"field":"angle","type":"quantitative"},
   "color":{"field":"series","type":"nominal","scale":{"domain":["LHCP sim.","LHCP meas.","RHCP sim.","RHCP meas."],"range":["#1f4fc4","#4cbb47","#000000","#e8262a"]}}}},
 {"data":{"name":"curves"},"transform":[{"filter":"datum.panel === 'b-xz' && datum.gain > -30 && datum.angle < 360"},{"calculate":"max(datum.gain,-40)+40","as":"r"},{"calculate":"-datum.r*sin(datum.angle*PI/180)","as":"x"},{"calculate":"datum.r*cos(datum.angle*PI/180)","as":"y"}],
  "mark":{"type":"point","shape":"circle","filled":true,"opacity":1,"strokeWidth":1.3,"size":34},
  "encoding":{"x":{"field":"x","type":"quantitative"},"y":{"field":"y","type":"quantitative"},
   "fill":{"field":"series","type":"nominal","scale":{"domain":["LHCP sim.","LHCP meas.","RHCP sim.","RHCP meas."],"range":["#1f4fc4","#ffffff","#000000","#ffffff"]},"legend":null},
   "stroke":{"field":"series","type":"nominal","scale":{"domain":["LHCP sim.","LHCP meas.","RHCP sim.","RHCP meas."],"range":["#1f4fc4","#4cbb47","#000000","#e8262a"]},"legend":null}}},
 {"data":{"name":"angleLabels"},"transform":[{"calculate":"-45*sin(datum.angle*PI/180)","as":"x"},{"calculate":"45*cos(datum.angle*PI/180)","as":"y"}],
  "mark":{"type":"text","font":"Liberation Serif","fontWeight":"bold","fontSize":17,"align":"center","baseline":"middle","color":"#000"},
  "encoding":{"x":{"field":"x","type":"quantitative"},"y":{"field":"y","type":"quantitative"},"text":{"field":"angle","type":"nominal"}}}
 ]},
{"width":244,"height":244,
 "layer":[
 {"data":{"name":"rings"},"transform":[{"filter":"datum.r < 40"}],"mark":{"type":"arc","theta":0,"theta2":6.2832,"fillOpacity":0,"stroke":"#cccccc","strokeWidth":0.8},"encoding":{"radius":{"field":"r","type":"quantitative","scale":{"type":"linear","domain":[0,40],"zero":true,"nice":false}}}},
 {"data":{"name":"spokes"},"transform":[{"calculate":"-5*sin(datum.angle*PI/180)","as":"x"},{"calculate":"5*cos(datum.angle*PI/180)","as":"y"},{"calculate":"-40*sin(datum.angle*PI/180)","as":"x2"},{"calculate":"40*cos(datum.angle*PI/180)","as":"y2"}],
  "mark":{"type":"rule","stroke":"#cccccc","strokeWidth":0.8},
  "encoding":{
   "x":{"field":"x","type":"quantitative","scale":{"domain":[-40,40],"nice":false,"zero":false},"axis":{"title":"yz-plane"}},
   "y":{"field":"y","type":"quantitative","scale":{"domain":[-40,40],"nice":false,"zero":false},"axis":{"title":"Gain(dB)","offset":24,"tickCount":100,"labelOverlap":false,"values":[-40,-38,-36,-34,-32,-30,-28,-26,-24,-22,-20,-18,-16,-14,-12,-10,-8,-6,-4,-2,0,2,4,6,8,10,12,14,16,18,20,22,24,26,28,30,32,34,36,38,40],"labelExpr":"datum.value % 10 === 0 ? '' + (abs(datum.value) - 40) : ''","tickSize":{"condition":{"test":"datum.value % 10 === 0","value":6},"value":3}}},
   "x2":{"field":"x2"},"y2":{"field":"y2"}}},
 {"data":{"name":"rings"},"transform":[{"filter":"datum.r === 40"}],"mark":{"type":"arc","theta":0,"theta2":6.2832,"fillOpacity":0,"stroke":"#000000","strokeWidth":3},"encoding":{"radius":{"field":"r","type":"quantitative","scale":{"type":"linear","domain":[0,40],"zero":true,"nice":false}}}},
 {"data":{"name":"curves"},"transform":[{"filter":"datum.panel === 'b-yz' && indexof(datum.series,'meas') >= 0"},{"calculate":"max(datum.gain,-40)+40","as":"r"},{"calculate":"-datum.r*sin(datum.angle*PI/180)","as":"x"},{"calculate":"datum.r*cos(datum.angle*PI/180)","as":"y"}],
  "mark":{"type":"line","interpolate":"catmull-rom","strokeWidth":2.5,"strokeDash":[9,5]},
  "encoding":{"x":{"field":"x","type":"quantitative"},"y":{"field":"y","type":"quantitative"},"order":{"field":"angle","type":"quantitative"},
   "color":{"field":"series","type":"nominal","scale":{"domain":["LHCP sim.","LHCP meas.","RHCP sim.","RHCP meas."],"range":["#1f4fc4","#4cbb47","#000000","#e8262a"]}}}},
 {"data":{"name":"curves"},"transform":[{"filter":"datum.panel === 'b-yz' && indexof(datum.series,'sim') >= 0"},{"calculate":"max(datum.gain,-40)+40","as":"r"},{"calculate":"-datum.r*sin(datum.angle*PI/180)","as":"x"},{"calculate":"datum.r*cos(datum.angle*PI/180)","as":"y"}],
  "mark":{"type":"line","interpolate":"catmull-rom","strokeWidth":2.5},
  "encoding":{"x":{"field":"x","type":"quantitative"},"y":{"field":"y","type":"quantitative"},"order":{"field":"angle","type":"quantitative"},
   "color":{"field":"series","type":"nominal","scale":{"domain":["LHCP sim.","LHCP meas.","RHCP sim.","RHCP meas."],"range":["#1f4fc4","#4cbb47","#000000","#e8262a"]}}}},
 {"data":{"name":"curves"},"transform":[{"filter":"datum.panel === 'b-yz' && datum.gain > -30 && datum.angle < 360"},{"calculate":"max(datum.gain,-40)+40","as":"r"},{"calculate":"-datum.r*sin(datum.angle*PI/180)","as":"x"},{"calculate":"datum.r*cos(datum.angle*PI/180)","as":"y"}],
  "mark":{"type":"point","shape":"circle","filled":true,"opacity":1,"strokeWidth":1.3,"size":34},
  "encoding":{"x":{"field":"x","type":"quantitative"},"y":{"field":"y","type":"quantitative"},
   "fill":{"field":"series","type":"nominal","scale":{"domain":["LHCP sim.","LHCP meas.","RHCP sim.","RHCP meas."],"range":["#1f4fc4","#ffffff","#000000","#ffffff"]},"legend":null},
   "stroke":{"field":"series","type":"nominal","scale":{"domain":["LHCP sim.","LHCP meas.","RHCP sim.","RHCP meas."],"range":["#1f4fc4","#4cbb47","#000000","#e8262a"]},"legend":null}}},
 {"data":{"name":"angleLabels"},"transform":[{"calculate":"-45*sin(datum.angle*PI/180)","as":"x"},{"calculate":"45*cos(datum.angle*PI/180)","as":"y"}],
  "mark":{"type":"text","font":"Liberation Serif","fontWeight":"bold","fontSize":17,"align":"center","baseline":"middle","color":"#000"},
  "encoding":{"x":{"field":"x","type":"quantitative"},"y":{"field":"y","type":"quantitative"},"text":{"field":"angle","type":"nominal"}}}
 ]}
],
"config":{
 "view":{"stroke":null},
 "axis":{"labelFont":"Liberation Serif","titleFont":"Liberation Serif","labelColor":"#000","titleColor":"#000","labelFontWeight":"bold","titleFontWeight":"bold","grid":false},
 "axisY":{"domainColor":"#000","domainWidth":2.5,"tickColor":"#000","tickWidth":2,"labelFontSize":19,"titleFontSize":36,"labelPadding":1,"titlePadding":4,"labelOverlap":false,"labelFlush":false,"labelBound":false},
 "axisX":{"labels":false,"ticks":false,"domain":false,"titleFontSize":24,"titlePadding":19}
}
}
